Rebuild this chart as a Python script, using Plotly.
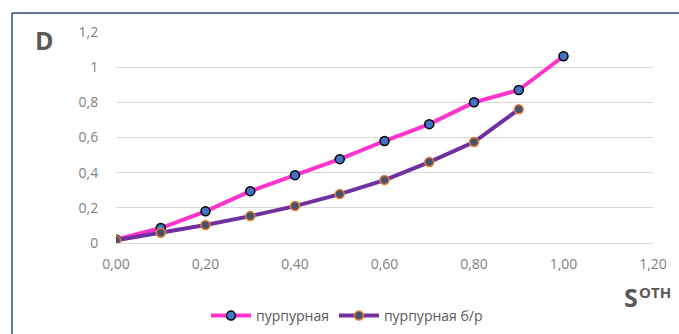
import plotly.graph_objects as go

# Relative saturation values (x axis)
s_oth = [0.0, 0.1, 0.2, 0.3, 0.4, 0.5, 0.6, 0.7, 0.8, 0.9, 1.0]
# Optical density, purple dye
d_purple = [0.02, 0.085, 0.18, 0.295, 0.386, 0.477, 0.58, 0.676, 0.80, 0.87, 1.062]
# Optical density, purple dye б/р
s_oth_br = [0.0, 0.1, 0.2, 0.3, 0.4, 0.5, 0.6, 0.7, 0.8, 0.9]
d_purple_br = [0.015, 0.058, 0.102, 0.153, 0.21, 0.278, 0.358, 0.46, 0.574, 0.76]

series_names = ["пурпурная", "пурпурная б/р"]
x_ticks = [0.0, 0.2, 0.4, 0.6, 0.8, 1.0, 1.2]
y_ticks = [0.0, 0.2, 0.4, 0.6, 0.8, 1.0, 1.2]

W, H = 679, 334
L, R, T, B = 116, 26, 32, 91
pw, ph = W - L - R, H - T - B

def px_x(x):
    return (x - L) / pw

def px_y(y):
    return (H - B - y) / ph

FONT = "Open Sans, DejaVu Sans, sans-serif"

fig = go.Figure()
fig.add_trace(go.Scatter(
    x=s_oth, y=d_purple, name=series_names[0], mode="lines+markers",
    line=dict(color="#FF33CC", width=4),
    marker=dict(size=9, color="#4472C4", line=dict(color="#000000", width=1.5)),
))
fig.add_trace(go.Scatter(
    x=s_oth_br, y=d_purple_br, name=series_names[1], mode="lines+markers",
    line=dict(color="#7030A0", width=4),
    marker=dict(size=9, color="#44546A", line=dict(color="#ED7D31", width=1.5)),
))

tick_font = dict(family=FONT, size=14, color="#7F7F7F")

fig.update_layout(
    width=W, height=H,
    margin=dict(l=L, r=R, t=T, b=B, autoexpand=False),
    paper_bgcolor="white", plot_bgcolor="white",
    separators=", ",
    showlegend=True,
    legend=dict(
        orientation="h", xref="paper", yref="paper",
        x=px_x(347), y=px_y(316), xanchor="center", yanchor="middle",
        font=dict(family=FONT, size=14, color="#595959"),
        itemwidth=40, tracegroupgap=0, bgcolor="rgba(0,0,0,0)",
    ),
    xaxis=dict(
        range=[0, 1.2], tickvals=x_ticks, tickformat=".2f",
        showgrid=False, zeroline=False, showline=False,
        ticks="outside", ticklen=8, tickcolor="rgba(0,0,0,0)",
        tickfont=tick_font,
    ),
    yaxis=dict(
        range=[0, 1.2], tickvals=y_ticks, tickformat="",
        showgrid=True, gridcolor="#D9D9D9", gridwidth=1,
        zeroline=True, zerolinecolor="#D9D9D9", zerolinewidth=1,
        showline=False,
        ticks="outside", ticklen=14, tickcolor="rgba(0,0,0,0)",
        tickfont=tick_font,
    ),
)

# Chart frame (top and left edges)
frame_color = "#2F4A7A"
fig.add_shape(type="line", xref="paper", yref="paper",
              x0=px_x(12), x1=px_x(W + 2), y0=px_y(13), y1=px_y(13),
              line=dict(color=frame_color, width=1.5))
fig.add_shape(type="line", xref="paper", yref="paper",
              x0=px_x(12), x1=px_x(12), y0=px_y(13), y1=px_y(H + 2),
              line=dict(color=frame_color, width=1.5))

# Axis titles
fig.add_annotation(text="<b>D</b>", xref="paper", yref="paper",
                   x=px_x(44), y=px_y(40), xanchor="center", yanchor="middle",
                   showarrow=False,
                   font=dict(family=FONT, size=25, color="#595959"))
fig.add_annotation(text="<b>S</b>", xref="paper", yref="paper",
                   x=px_x(631), y=px_y(297), xanchor="center", yanchor="middle",
                   showarrow=False,
                   font=dict(family=FONT, size=25, color="#595959"))
fig.add_annotation(text="<b>OTH</b>", xref="paper", yref="paper",
                   x=px_x(637), y=px_y(292), xanchor="left", yanchor="middle",
                   showarrow=False,
                   font=dict(family=FONT, size=15, color="#595959"))

fig.write_html("out.html")
